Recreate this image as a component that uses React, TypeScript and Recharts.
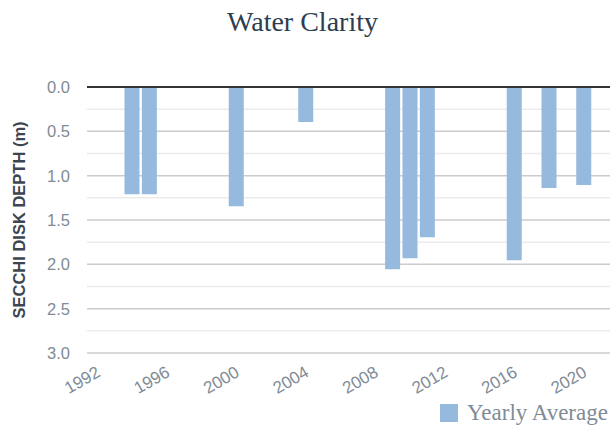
import { BarChart, Bar, XAxis, YAxis, CartesianGrid, ReferenceLine } from "recharts";

const years = [1994, 1995, 2000, 2004, 2009, 2010, 2011, 2016, 2018, 2020];
const depths = [1.21, 1.21, 1.345, 0.395, 2.055, 1.93, 1.695, 1.955, 1.14, 1.105];
const yearTicks = [1992, 1996, 2000, 2004, 2008, 2012, 2016, 2020];
const depthTicks = [0, 0.5, 1, 1.5, 2, 2.5, 3];
const minorDepthTicks = [0.25, 0.75, 1.25, 1.75, 2.25, 2.75];
const depthMax = 3;

const data = years.map((year, i) => ({ year, depth: depths[i] }));

const BAR = "#96b9de";
const TICK = "#808b96";
const SANS = '"Liberation Sans", Arial, sans-serif';
const SERIF = '"Liberation Serif", "Times New Roman", serif';

export default function App() {
  return (
    <div style={{ position: "relative", width: 613, height: 428 }}>
      <style>{`body{margin:0}`}</style>
      <div
        style={{
          position: "absolute",
          top: 6,
          left: 0,
          width: 605,
          textAlign: "center",
          fontFamily: SERIF,
          fontSize: 28,
          color: "#2c3e50",
        }}
      >
        Water Clarity
      </div>
      <BarChart width={613} height={428} data={data} margin={{ top: 87, right: 3, bottom: 0, left: 0 }}>
        <CartesianGrid
          vertical={false}
          stroke="#ebebeb"
          strokeWidth={1.5}
          horizontalCoordinatesGenerator={({ offset }: any) =>
            minorDepthTicks.map((v) => offset.top + (v / depthMax) * offset.height)
          }
        />
        <CartesianGrid vertical={false} stroke="#cccccc" strokeWidth={1.5} />
        <XAxis
          dataKey="year"
          type="number"
          domain={[1991.4, 2021.5]}
          ticks={yearTicks}
          allowDataOverflow
          height={75}
          angle={-30}
          textAnchor="end"
          tickLine={false}
          axisLine={false}
          tick={{ fill: TICK, fontSize: 17, fontFamily: SANS, dx: -2, dy: 4 }}
        />
        <YAxis
          reversed
          domain={[0, depthMax]}
          ticks={depthTicks}
          width={87}
          tickLine={false}
          axisLine={false}
          tickMargin={11}
          tickFormatter={(v: number) => v.toFixed(1)}
          tick={{ fill: TICK, fontSize: 16.5, fontFamily: SANS }}
          label={{
            value: "SECCHI DISK DEPTH (m)",
            angle: -90,
            position: "insideLeft",
            dx: 14,
            style: { textAnchor: "middle", fill: "#3d4650", fontWeight: "bold", fontSize: 16.5, fontFamily: SANS },
          }}
        />
        <Bar dataKey="depth" fill={BAR} barSize={15} isAnimationActive={false} />
        <ReferenceLine y={0} stroke="#333333" strokeWidth={2} />
      </BarChart>
      <div
        style={{
          position: "absolute",
          left: 440,
          top: 400,
          display: "flex",
          alignItems: "center",
          fontFamily: SERIF,
          fontSize: 23,
          color: TICK,
        }}
      >
        <span style={{ display: "inline-block", width: 18, height: 18, background: BAR, marginRight: 9 }} />
        Yearly Average
      </div>
    </div>
  );
}
